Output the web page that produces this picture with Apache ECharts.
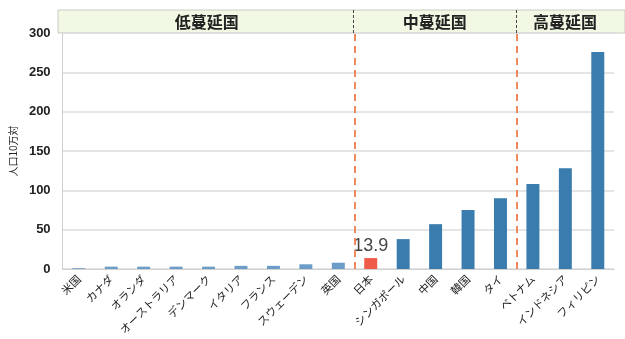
<!DOCTYPE html>
<html><head><meta charset="utf-8">
<script src="https://cdn.jsdelivr.net/npm/echarts@6/dist/echarts.min.js"></script>
<style>html,body{margin:0;padding:0;background:#fff}#c{width:625px;height:339px}</style>
</head><body><div id="c"></div>
<script>
const categories = ['米国','カナダ','オランダ','オーストラリア','デンマーク','イタリア','フランス','スウェーデン','英国','日本','シンガポール','中国','韓国','タイ','ベトナム','インドネシア','フィリピン'];
const values = [1, 3, 3, 3, 3, 4, 4, 6, 8, 13.9, 38, 57, 75, 90, 108, 128, 276];
const groupNames = ['低蔓延国','中蔓延国','高蔓延国'];
const groupBounds = [[-0.5, 8.5], [8.5, 13.5], [13.5, 16.5]];
const yTicks = [0, 50, 100, 150, 200, 250, 300];
const highlight = '日本';

const W = 625, L = 60, R = 11, HL = 58, HR = 0;
const n = categories.length;
const bw = (W - L - R) / n;
const hMin = -0.5 - (L - HL) / bw;
const hMax = n - 0.5 + (R - HR) / bw;

const barData = categories.map((c, i) => {
  const isJ = c === highlight;
  const low = i < 9;
  return {
    value: values[i],
    itemStyle: { color: isJ ? '#f05a48' : (low ? '#6b9dc8' : '#3a7cae') },
    label: isJ ? { show: true, position: 'top', formatter: '{c}', fontSize: 18, color: '#444', fontFamily: 'Liberation Sans', distance: 3 } : { show: false }
  };
});

const chart = echarts.init(document.getElementById('c'));
chart.setOption({
  animation: false,
  backgroundColor: '#fff',
  grid: [
    { left: L, right: R, top: 33, bottom: 70 },
    { left: HL, right: HR, top: 10, height: 23, show: true, backgroundColor: '#f1f8e3', borderColor: '#c8ccc4', borderWidth: 1 }
  ],
  xAxis: [
    { type: 'category', gridIndex: 0, data: categories,
      axisLine: { lineStyle: { color: '#cfcfcf' } }, axisTick: { show: false },
      axisLabel: { rotate: 45, interval: 0, fontSize: 11, color: '#222', fontFamily: 'Noto Sans CJK JP', margin: 8 } },
    { type: 'value', gridIndex: 0, min: -0.5, max: n - 0.5, show: false },
    { type: 'value', gridIndex: 1, min: hMin, max: hMax, show: false }
  ],
  yAxis: [
    { type: 'value', gridIndex: 0, min: 0, max: 300, interval: 50,
      name: '人口10万対', nameLocation: 'middle', nameGap: 40, nameRotate: 90,
      nameTextStyle: { fontSize: 10, color: '#222', fontFamily: 'Noto Sans CJK JP' },
      axisLine: { show: true, onZero: false, lineStyle: { color: '#d0d0d0' } }, axisTick: { show: false },
      axisLabel: { fontSize: 13, color: '#222', fontWeight: 'bold', fontFamily: 'Liberation Sans', margin: 12,
        formatter: v => yTicks.includes(v) ? String(v) : '' },
      splitLine: { lineStyle: { color: '#dcdcdc', width: 1.5 } } },
    { type: 'value', gridIndex: 1, min: 0, max: 1, show: false }
  ],
  series: [
    { type: 'bar', xAxisIndex: 0, yAxisIndex: 0, data: barData, barWidth: '40%' },
    { type: 'line', xAxisIndex: 1, yAxisIndex: 0, data: [], symbol: 'none',
      markLine: { silent: true, symbol: 'none', label: { show: false },
        lineStyle: { color: '#f08a5a', type: [7, 5], width: 2 },
        data: groupBounds.slice(1).map(b => ({ xAxis: b[0] })) } },
    { type: 'line', xAxisIndex: 2, yAxisIndex: 1, data: [], symbol: 'none',
      markArea: { silent: true, itemStyle: { color: 'rgba(0,0,0,0)' },
        label: { position: 'inside', fontSize: 16, fontWeight: 'bold', color: '#222', fontFamily: 'Noto Sans CJK JP' },
        data: groupBounds.map((b, i) => [{ xAxis: b[0], yAxis: 0, name: groupNames[i] }, { xAxis: b[1], yAxis: 1 }]) },
      markLine: { silent: true, symbol: 'none', label: { show: false },
        lineStyle: { color: '#444', type: [3, 2], width: 1 },
        data: groupBounds.slice(1).map(b => ({ xAxis: b[0] })) } }
  ]
});
</script></body></html>
